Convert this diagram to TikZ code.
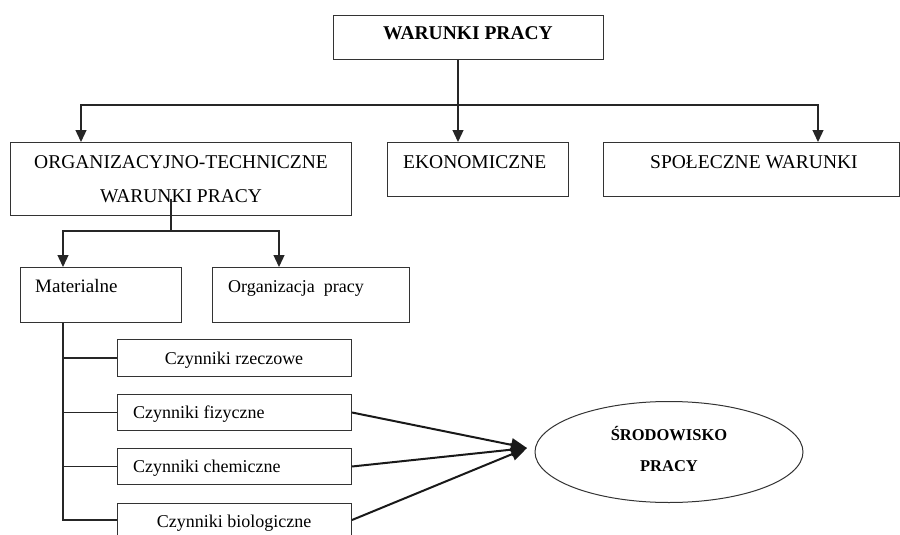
\documentclass[tikz,border=0pt]{standalone}
\usepackage{fontspec}
\setmainfont{Liberation Serif}
\usetikzlibrary{arrows.meta,shapes.geometric}

\begin{document}
\begin{tikzpicture}[x=1pt,y=-1pt,
  box/.style={draw=black!80,line width=1pt,rectangle,inner sep=0pt,anchor=north west},
  txt/.style={inner sep=0pt,font=\fontsize{19.5}{23}\selectfont},
  small/.style={inner sep=0pt,font=\fontsize{18}{21}\selectfont},
  line/.style={draw=black!85,line width=1.3pt},
  arr/.style={line,-{Triangle[length=12pt,width=11pt]}},
  bigarr/.style={draw=black!90,line width=2pt,-{Triangle[length=16pt,width=13pt]}}]
\useasboundingbox (0,0) rectangle (900,535);
\clip (0,0) rectangle (900,535);

% boxes
\node[box,minimum width=270,minimum height=44] (top) at (333,15) {};
\node[box,minimum width=341,minimum height=73] (org) at (10,142) {};
\node[box,minimum width=181,minimum height=54] (eko) at (387,142) {};
\node[box,minimum width=296,minimum height=54] (spo) at (603,142) {};
\node[box,minimum width=161,minimum height=55] (mat) at (20,267) {};
\node[box,minimum width=197,minimum height=55] (orgp) at (212,267) {};
\node[box,minimum width=234,minimum height=37] (rz) at (117,339) {};
\node[box,minimum width=234,minimum height=36] (fiz) at (117,394) {};
\node[box,minimum width=234,minimum height=36] (chem) at (117,448) {};
\node[box,minimum width=234,minimum height=50] (bio) at (117,503) {};
\node[draw=black!80,line width=1pt,ellipse,minimum width=268,minimum height=101,inner sep=0pt] (env) at (669,452) {};

% texts
\node[txt,anchor=base,font=\fontsize{19.5}{23}\selectfont\bfseries] (ttop) at (468,40) {WARUNKI PRACY};
\node[txt,anchor=base] (torg1) at (181,168) {ORGANIZACYJNO-TECHNICZNE};
\node[txt,anchor=base] (torg2) at (181,202) {WARUNKI PRACY};
\node[txt,anchor=base west] (teko) at (403,168) {EKONOMICZNE};
\node[txt,anchor=base west] (tspo) at (650,168) {SPOŁECZNE WARUNKI};
\node[small,anchor=base west,font=\fontsize{19}{22}\selectfont] (tmat) at (35,292) {Materialne};
\node[small,anchor=base west] (torgp) at (228,292) {Organizacja\ \ pracy};
\node[small,anchor=base] (trz) at (234,364) {Czynniki rzeczowe};
\node[small,anchor=base west] (tfiz) at (133,418) {Czynniki fizyczne};
\node[small,anchor=base west] (tchem) at (133,472) {Czynniki chemiczne};
\node[small,anchor=base] (tbio) at (234,527) {Czynniki biologiczne};
\node[inner sep=0pt,anchor=base,font=\fontsize{16.5}{20}\selectfont\bfseries] (tenv1) at (669,440) {ŚRODOWISKO};
\node[inner sep=0pt,anchor=base,font=\fontsize{16.5}{20}\selectfont\bfseries] (tenv2) at (669,471) {PRACY};

% top level split
\coordinate (j1) at (458,105);
\draw[line] (top.south -| j1) -- (j1);
\draw[arr] (j1) -| ([xshift=71]org.north west);
\draw[arr] (j1) -- (eko.north -| j1);
\draw[arr] (j1) -| ([xshift=215]spo.north west);

% organizational-technical split
\coordinate (j2) at (171,231);
\draw[line] ([yshift=17]org.south -| j2) -- (j2);
\draw[arr] (j2) -| ([xshift=43]mat.north west);
\draw[arr] (j2) -| ([xshift=67]orgp.north west);

% material factors
\coordinate (j3) at (63,520);
\draw[line] (mat.south -| j3) -- (j3) -- ([yshift=-17]bio.north west);
\draw[line] (rz.west -| j3) -- (rz.west);
\draw[line] (fiz.west -| j3) -- (fiz.west);
\draw[line] (chem.west -| j3) -- (chem.west);

% working environment
\coordinate (tip) at (527,448);
\draw[bigarr] (fiz.east) -- (tip);
\draw[bigarr] (chem.east) -- (tip);
\draw[bigarr] ([yshift=-17]bio.north east) -- (tip);
\end{tikzpicture}
\end{document}
